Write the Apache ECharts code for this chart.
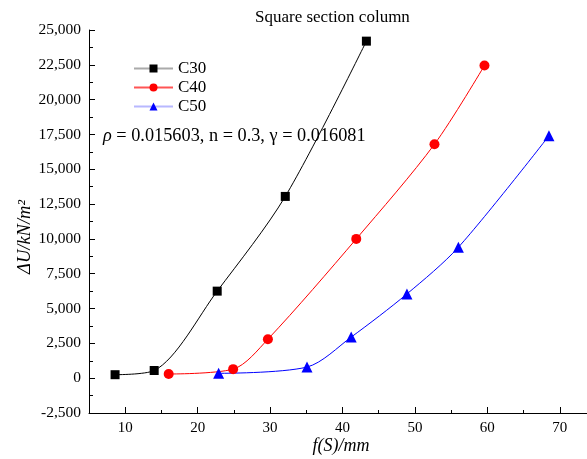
<!DOCTYPE html>
<html>
<head>
<meta charset="utf-8">
<script src="https://cdn.jsdelivr.net/npm/echarts@6/dist/echarts.min.js"></script>
<style>
  html, body { margin: 0; padding: 0; background: #fff; }
  #chart { width: 587px; height: 459px; }
</style>
</head>
<body>
<div id="chart"></div>
<script>
// Energy increment ΔU versus f(S) for three concrete grades
const seriesNames = ['C30', 'C40', 'C50'];
const c30X = [8.6, 14.0, 22.7, 32.1, 43.3];
const c30Y = [250, 550, 6250, 13050, 24200];
const c40X = [16.0, 24.9, 29.7, 41.9, 52.7, 59.6];
const c40Y = [300, 650, 2800, 10000, 16800, 22450];
const c50X = [22.9, 35.1, 41.2, 48.9, 56.0, 68.5];
const c50Y = [350, 800, 2950, 6050, 9400, 17400];
const xTickValues = [10, 20, 30, 40, 50, 60, 70];

const FONT = 'Liberation Serif';
const pair = (xs, ys) => xs.map((x, i) => [x, ys[i]]);
const fmt = v => Number(v).toLocaleString('en-US');

const chart = echarts.init(document.getElementById('chart'), null, { renderer: 'canvas' });

const lineSeries = (name, data, color, symbol, size) => ({
  name, type: 'line', data, smooth: 0.3,
  symbol, symbolSize: size, showSymbol: true,
  itemStyle: { color },
  lineStyle: { color, width: 1 },
  emphasis: { disabled: true },
  z: 3
});

chart.setOption({
  animation: false,
  backgroundColor: '#fff',
  title: {
    text: 'Square section column',
    left: 255, top: 9, padding: 0,
    textStyle: { fontFamily: FONT, fontSize: 17, fontWeight: 'normal', color: '#000' }
  },
  legend: {
    orient: 'vertical',
    left: 133, top: 60, padding: 0,
    itemWidth: 39, itemHeight: 10, itemGap: 2,
    textStyle: { fontFamily: FONT, fontSize: 17, color: '#000' },
    data: [
      { name: 'C30', lineStyle: { color: '#aaaaaa' } },
      { name: 'C40', lineStyle: { color: '#ff5555' } },
      { name: 'C50', lineStyle: { color: '#b8b8ff' } }
    ]
  },
  grid: { left: 89, top: 30, width: 507, height: 383, outerBoundsMode: 'none', containLabel: false },
  xAxis: [
    {
      type: 'value', min: 5, max: 75, splitNumber: 7,
      axisLine: { show: true, onZero: false, lineStyle: { color: '#000', width: 1 } },
      axisTick: { show: true, inside: true, length: 6, lineStyle: { color: '#000' },
        customValues: xTickValues },
      axisLabel: { show: true, margin: 8, color: '#000', fontFamily: FONT, fontSize: 15,
        customValues: xTickValues },
      splitLine: { show: false }
    },
    {
      // half-step ticks at 15, 25, … (offset axis: value 0 sits on x = 5)
      type: 'value', min: 0, max: 70, interval: 10, position: 'bottom',
      axisLine: { show: false, onZero: false },
      axisTick: { show: true, inside: true, length: 3, lineStyle: { color: '#000' } },
      axisLabel: { show: false },
      splitLine: { show: false }
    }
  ],
  yAxis: {
    type: 'value', min: -2500, max: 25000, interval: 2500,
    axisLine: { show: true, onZero: false, lineStyle: { color: '#000', width: 1 } },
    axisTick: { show: true, inside: true, length: 6, lineStyle: { color: '#000' } },
    minorTick: { show: true, splitNumber: 2, length: 4, lineStyle: { color: '#000' } },
    axisLabel: { margin: 8, color: '#000', fontFamily: FONT, fontSize: 15.5, formatter: fmt },
    splitLine: { show: false }
  },
  graphic: [
    {
      type: 'text', x: 25, y: 237, rotation: Math.PI / 2,
      style: { text: 'ΔU/kN/m²', fontFamily: FONT, fontStyle: 'italic', fontSize: 18.5, fill: '#000',
        align: 'center', verticalAlign: 'middle' }
    },
    {
      type: 'text', x: 341, y: 446,
      style: { text: 'f(S)/mm', fontFamily: FONT, fontStyle: 'italic', fontSize: 18, fill: '#000',
        align: 'center', verticalAlign: 'middle' }
    },
    {
      type: 'text', x: 103, y: 136,
      style: {
        text: '{i|ρ}{t| = 0.015603, n = 0.3, γ = 0.016081}',
        fontFamily: FONT, fontSize: 18.3, fill: '#000', verticalAlign: 'middle',
        rich: {
          i: { fontStyle: 'italic', fontFamily: FONT, fontSize: 18.3, fill: '#000' },
          t: { fontFamily: FONT, fontSize: 18.3, fill: '#000' }
        }
      }
    }
  ],
  series: [
    lineSeries(seriesNames[0], pair(c30X, c30Y), '#000000', 'rect', 9),
    lineSeries(seriesNames[1], pair(c40X, c40Y), '#ff0000', 'circle', 10),
    lineSeries(seriesNames[2], pair(c50X, c50Y), '#0000ff', 'triangle', 11)
  ]
});
</script>
</body>
</html>
